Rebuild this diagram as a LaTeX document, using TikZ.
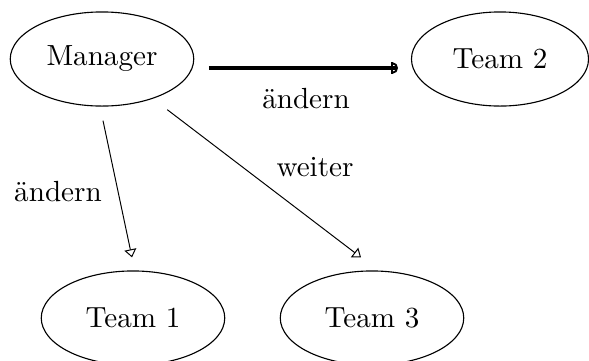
\documentclass[tikz,border=0pt]{standalone}
\usepackage{fontspec}
\usetikzlibrary{arrows.meta,calc,shapes.geometric}
\begin{document}
\begin{tikzpicture}[x=0.357pt,y=-0.357pt,
  every node/.style={font=\fontsize{10.4}{12}\selectfont},
  ell/.style={draw, ellipse, line width=0.4pt, inner sep=0pt, minimum width=65.5pt, minimum height=33.6pt},
  thinarrow/.style={draw, line width=0.35pt, -{Triangle[open, length=2.9pt, width=4.3pt]}},
  thickarrow/.style={draw, line width=1.1pt, -{Bar[width=4pt, line width=0.7pt]Arc Barb[width=4pt, length=1.8pt, line width=0.7pt]}},
  lbl/.style={inner sep=0pt}]
\useasboundingbox (0,0) rectangle (589,360);
\node[ell] (man) at (102,59) {Manager};
\node[ell, minimum width=63.2pt] (t2) at (500,59) {Team 2};
\node[ell] (t1) at (133,318) {Team 1};
\node[ell] (t3) at (372,318) {Team 3};
\draw[thickarrow] ($(man.east)+(14.5,9)$) -- ($(t2.west)+(-13,9)$);
\draw[thinarrow] ($(man.south)+(1,14)$) -- ($(t1.north)+(-1,-13)$);
\draw[thinarrow] ($(man.south east)+(0,17)$) -- ($(t3.north)+(-11,-13)$);
\node[lbl] (l1) at (306,99) {ändern};
\node[lbl] (l2) at (58,192) {ändern};
\node[lbl] (l3) at (315,167) {weiter};
\end{tikzpicture}
\end{document}
